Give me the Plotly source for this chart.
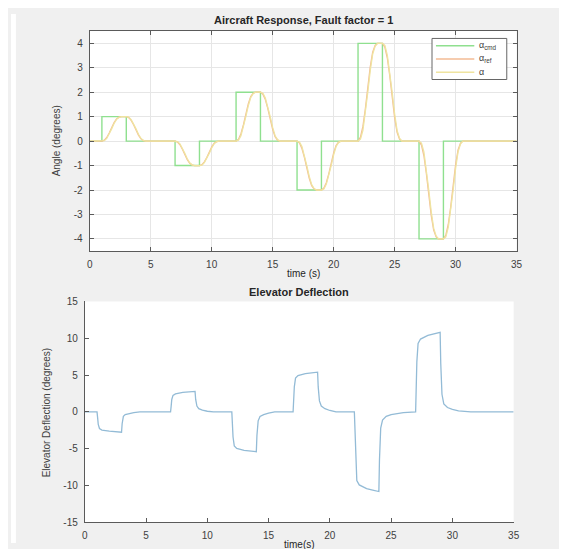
import plotly.graph_objects as go

# page is 567x557; the browser body keeps an 8px margin, so the figure is 551x541
OFF = 8
W, H = 567 - 2 * OFF, 557 - 2 * OFF

# ---- Top plot data: commanded angle (step), reference and actual response ----
t_cmd = [0, 1, 1, 3, 3, 7, 7, 9, 9, 12, 12, 14, 14, 17, 17, 19, 19, 22, 22, 24, 24, 27, 27, 29, 29, 35]
a_cmd = [0, 0, 1, 1, 0, 0, -1, -1, 0, 0, 2, 2, 0, 0, -2, -2, 0, 0, 4, 4, 0, 0, -4, -4, 0, 0]

t_resp = [0,
          1.0, 1.2, 1.4, 1.6, 1.8, 2.0, 2.2, 2.4, 2.6, 3.0, 3.2, 3.4, 3.6, 3.8, 4.0, 4.2, 4.4, 4.6,
          7.0, 7.2, 7.4, 7.6, 7.8, 8.0, 8.2, 8.4, 8.6, 9.0, 9.2, 9.4, 9.6, 9.8, 10.0, 10.2, 10.4, 10.6,
          12.0, 12.2, 12.4, 12.6, 12.8, 13.0, 13.2, 13.4, 13.6, 14.0, 14.2, 14.4, 14.6, 14.8, 15.0, 15.2, 15.4, 15.6,
          17.0, 17.2, 17.4, 17.6, 17.8, 18.0, 18.2, 18.4, 18.6, 19.0, 19.2, 19.4, 19.6, 19.8, 20.0, 20.2, 20.4, 20.6,
          22.0, 22.2, 22.4, 22.6, 22.8, 23.0, 23.2, 23.4, 23.6, 24.0, 24.2, 24.4, 24.6, 24.8, 25.0, 25.2, 25.4, 25.6,
          27.0, 27.2, 27.4, 27.6, 27.8, 28.0, 28.2, 28.4, 28.6, 29.0, 29.2, 29.4, 29.6, 29.8, 30.0, 30.2, 30.4, 30.6,
          35.0]
a_ref = [0,
         0, 0.04, 0.15, 0.33, 0.55, 0.76, 0.91, 0.98, 1.0, 1.0, 0.96, 0.85, 0.67, 0.45, 0.24, 0.09, 0.02, 0,
         0, -0.04, -0.15, -0.33, -0.55, -0.76, -0.91, -0.98, -1.0, -1.0, -0.96, -0.85, -0.67, -0.45, -0.24, -0.09, -0.02, 0,
         0, 0.08, 0.30, 0.66, 1.10, 1.52, 1.82, 1.96, 2.0, 2.0, 1.92, 1.70, 1.34, 0.90, 0.48, 0.18, 0.04, 0,
         0, -0.08, -0.30, -0.66, -1.10, -1.52, -1.82, -1.96, -2.0, -2.0, -1.92, -1.70, -1.34, -0.90, -0.48, -0.18, -0.04, 0,
         0, 0.16, 0.60, 1.32, 2.20, 3.04, 3.64, 3.92, 4.0, 4.0, 3.84, 3.40, 2.68, 1.80, 0.96, 0.36, 0.08, 0,
         0, -0.16, -0.60, -1.32, -2.20, -3.04, -3.64, -3.92, -4.0, -4.0, -3.84, -3.40, -2.68, -1.80, -0.96, -0.36, -0.08, 0,
         0]
a_act = [0,
         0, 0.02, 0.11, 0.28, 0.50, 0.72, 0.89, 0.97, 1.0, 1.0, 0.98, 0.88, 0.71, 0.50, 0.28, 0.11, 0.03, 0,
         0, -0.02, -0.11, -0.28, -0.50, -0.72, -0.89, -0.97, -1.0, -1.0, -0.98, -0.88, -0.71, -0.50, -0.28, -0.11, -0.03, 0,
         0, 0.04, 0.22, 0.56, 1.00, 1.44, 1.78, 1.94, 2.0, 2.0, 1.96, 1.76, 1.42, 1.00, 0.56, 0.22, 0.06, 0,
         0, -0.04, -0.22, -0.56, -1.00, -1.44, -1.78, -1.94, -2.0, -2.0, -1.96, -1.76, -1.42, -1.00, -0.56, -0.22, -0.06, 0,
         0, 0.08, 0.44, 1.12, 2.00, 2.88, 3.56, 3.88, 4.0, 4.0, 3.92, 3.52, 2.84, 2.00, 1.12, 0.44, 0.12, 0,
         0, -0.08, -0.44, -1.12, -2.00, -2.88, -3.56, -3.88, -4.0, -4.0, -3.92, -3.52, -2.84, -2.00, -1.12, -0.44, -0.12, 0,
         0]

# ---- Bottom plot data: elevator deflection ----
t_elev = [0,
          1.0, 1.05, 1.1, 1.2, 1.4, 2.0, 2.5, 3.0, 3.05, 3.15, 3.3, 3.6, 4.0, 4.5,
          7.0, 7.05, 7.1, 7.2, 7.4, 8.0, 8.5, 9.0, 9.05, 9.15, 9.3, 9.6, 10.0, 10.5,
          12.0, 12.05, 12.1, 12.2, 12.4, 13.0, 13.5, 14.0, 14.05, 14.15, 14.3, 14.6, 15.0, 15.5,
          17.0, 17.05, 17.1, 17.2, 17.4, 18.0, 18.5, 19.0, 19.05, 19.15, 19.3, 19.6, 20.0, 20.5,
          22.0, 22.05, 22.1, 22.2, 22.4, 23.0, 23.5, 24.0, 24.05, 24.15, 24.3, 24.6, 25.0, 26.0, 27.0,
          27.05, 27.1, 27.2, 27.4, 28.0, 28.5, 29.0, 29.05, 29.15, 29.3, 29.6, 30.0, 30.5, 31.5,
          35.0]
elev = [0,
        0, -0.8, -1.7, -2.25, -2.45, -2.6, -2.65, -2.75, -1.6, -0.6, -0.35, -0.2, -0.08, 0,
        0, 0.8, 1.7, 2.25, 2.45, 2.65, 2.75, 2.8, 1.7, 0.8, 0.45, 0.25, 0.1, 0,
        0, -1.6, -3.4, -4.6, -4.95, -5.2, -5.3, -5.4, -3.2, -1.2, -0.6, -0.35, -0.15, 0,
        0, 1.6, 3.4, 4.6, 4.95, 5.2, 5.3, 5.4, 3.4, 1.5, 0.8, 0.45, 0.2, 0,
        0, -3.2, -6.8, -9.3, -9.9, -10.4, -10.6, -10.8, -6.5, -2.2, -1.1, -0.6, -0.35, -0.1, 0,
        3.2, 6.8, 9.3, 9.9, 10.4, 10.6, 10.8, 6.6, 2.4, 1.1, 0.6, 0.35, 0.15, 0,
        0]

x_ticks = [0, 5, 10, 15, 20, 25, 30, 35]
y_ticks_top = [-4, -3, -2, -1, 0, 1, 2, 3, 4]
y_ticktext_top = ["-4", "-3", "-2", "-1", "0", "1", "2", "3", "4"]
y_ticks_bot = [-15, -10, -5, 0, 5, 10, 15]
y_ticktext_bot = ["-15", "-10", "-5", "0", "5", "10", "15"]

legend_names = ["α<sub>cmd</sub>", "α<sub>ref</sub>", "α"]
line_colors = ["#8fe08f", "#f3bb94", "#efe4a0"]
elev_color = "#93bbd6"

FONT = "Liberation Sans, Arial, Helvetica, sans-serif"
AX_COL = "#5a5a5a"
TXT_COL = "#404040"

fig = go.Figure()
fig.add_trace(go.Scatter(x=t_cmd, y=a_cmd, mode="lines", name=legend_names[0],
                         line=dict(color=line_colors[0], width=1.4), xaxis="x", yaxis="y"))
fig.add_trace(go.Scatter(x=t_resp, y=a_ref, mode="lines", name=legend_names[1],
                         line=dict(color=line_colors[1], width=1.3), xaxis="x", yaxis="y"))
fig.add_trace(go.Scatter(x=t_resp, y=a_act, mode="lines", name=legend_names[2],
                         line=dict(color=line_colors[2], width=1.3), xaxis="x", yaxis="y"))
fig.add_trace(go.Scatter(x=t_elev, y=elev, mode="lines", name="δe",
                         line=dict(color=elev_color, width=1.3), xaxis="x2", yaxis="y2"))

# convert screen pixel positions (in the 567x557 window) to paper fractions
def px_x(p):
    return (p - OFF) / W

def px_y(p):
    return 1 - (p - OFF) / H

tickfont = dict(family=FONT, size=10, color=TXT_COL)
common = dict(ticks="inside", ticklen=4, tickcolor=AX_COL, showline=True, linecolor=AX_COL,
              linewidth=1, zeroline=False, tickfont=tickfont, ticklabelstandoff=4)

fig.update_layout(
    width=W, height=H,
    margin=dict(l=0, r=0, t=0, b=0),
    paper_bgcolor="#f0f0f0",
    plot_bgcolor="white",
    font=dict(family=FONT, size=10, color=TXT_COL),
    xaxis=dict(domain=[px_x(88), px_x(522)], range=[0, 35], tickvals=x_ticks,
               mirror="allticks", showgrid=True, gridcolor="#e6e6e6", anchor="y", **common),
    yaxis=dict(domain=[px_y(250.5), px_y(25.5)], range=[-4.5, 4.5], tickvals=y_ticks_top,
               ticktext=y_ticktext_top,
               mirror="allticks", showgrid=True, gridcolor="#e6e6e6", anchor="x", **common),
    xaxis2=dict(domain=[px_x(83), px_x(519)], range=[0, 35], tickvals=x_ticks,
                mirror=False, showgrid=False, anchor="y2", **common),
    yaxis2=dict(domain=[px_y(528), px_y(302)], range=[-15, 15], tickvals=y_ticks_bot,
                ticktext=y_ticktext_bot,
                mirror=False, showgrid=False, anchor="x2", **common),
    showlegend=False,
)

annos = [
    dict(text="<b>Aircraft Response, Fault factor = 1</b>", x=px_x(305), y=px_y(14), size=11),
    dict(text="time (s)", x=px_x(305), y=px_y(273), size=10),
    dict(text="<b>Elevator Deflection</b>", x=px_x(301), y=px_y(292), size=11),
    dict(text="time(s)", x=px_x(301), y=px_y(551), size=10),
]
for a in annos:
    fig.add_annotation(text=a["text"], x=a["x"], y=a["y"], xref="paper", yref="paper",
                       showarrow=False, xanchor="center", yanchor="middle",
                       font=dict(family=FONT, size=a["size"], color="#262626"))
fig.add_annotation(text="Angle (degrees)", x=px_x(54), y=px_y(138), xref="paper", yref="paper",
                   showarrow=False, textangle=-90, xanchor="center", yanchor="middle",
                   font=dict(family=FONT, size=10, color=TXT_COL))
fig.add_annotation(text="Elevator Deflection (degrees)", x=px_x(45), y=px_y(415), xref="paper",
                   yref="paper", showarrow=False, textangle=-90, xanchor="center", yanchor="middle",
                   font=dict(family=FONT, size=10, color=TXT_COL))

# MATLAB-style legend box (compact, drawn in the top-right corner of the upper axes)
fig.add_shape(type="rect", xref="paper", yref="paper",
              x0=px_x(436), x1=px_x(512), y0=px_y(75), y1=px_y(33),
              fillcolor="white", line=dict(color="#666666", width=1), layer="above")
legend_rows = [40.5, 54, 67.5]
for name, col, yy in zip(legend_names, line_colors, legend_rows):
    fig.add_shape(type="line", xref="paper", yref="paper",
                  x0=px_x(440), x1=px_x(479), y0=px_y(yy), y1=px_y(yy),
                  line=dict(color=col, width=1.4), layer="above")
    fig.add_annotation(text=name, x=px_x(482), y=px_y(yy), xref="paper", yref="paper",
                       showarrow=False, xanchor="left", yanchor="middle",
                       font=dict(family=FONT, size=9, color=TXT_COL))

# white strip along the left edge of the screenshot
fig.add_shape(type="rect", xref="paper", yref="paper", x0=0, x1=px_x(13), y0=0, y1=1,
              fillcolor="white", line=dict(width=0), layer="below")

fig.write_html("out.html", config={"displayModeBar": False})
